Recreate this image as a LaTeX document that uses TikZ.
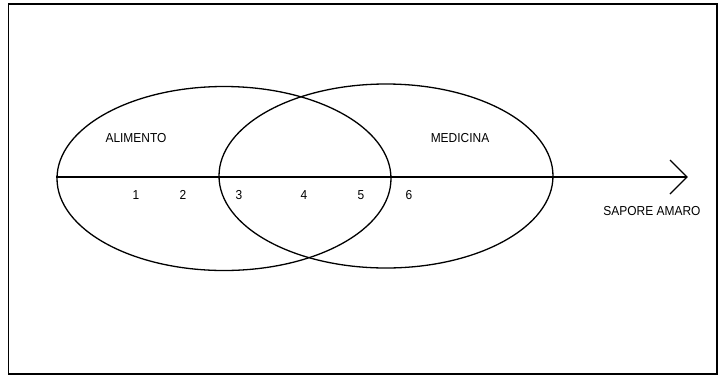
\documentclass[tikz,border=0pt]{standalone}
\usepackage{fontspec}
\setmainfont{Liberation Sans}[FakeStretch=0.92]
\usetikzlibrary{shapes.geometric}
\begin{document}
\begin{tikzpicture}[x=1pt,y=-1pt,
  setbox/.style={ellipse,draw,line width=1.3pt,inner sep=0pt,minimum width=334pt,minimum height=184pt},
  lab/.style={font=\fontsize{13}{13}\selectfont,inner sep=0pt},
  num/.style={font=\fontsize{13}{13}\selectfont,inner sep=0pt}]
\useasboundingbox (0,0) rectangle (724,376);
\draw[line width=1.6pt] (8.5,4) rectangle (717,374);
\node[setbox] (food) at (224,178.5) {};
\node[setbox] (med) at (386,176) {};
\coordinate (tip) at (687,177);
\draw[line width=1.3pt] (food.west |- tip) -- (tip);
\draw[line width=1.3pt] (tip) ++(-17,-17) -- (tip) -- ++(-17,17);
\node[lab] (alim) at (136,138) {ALIMENTO};
\node[lab] (medl) at (460,138) {MEDICINA};
\node[lab] (sap) at (652,211) {SAPORE AMARO};
\node[num] (n1) at (136,195) {1};
\node[num] (n2) at (183,195) {2};
\node[num] (n3) at (239,195) {3};
\node[num] (n4) at (304,195) {4};
\node[num] (n5) at (361,195) {5};
\node[num] (n6) at (409,195) {6};
\end{tikzpicture}
\end{document}
